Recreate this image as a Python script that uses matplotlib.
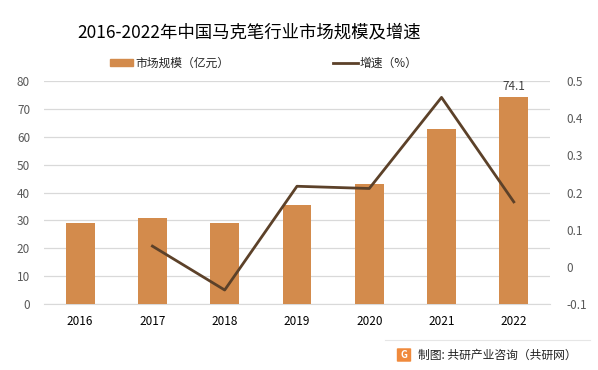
import matplotlib
matplotlib.use("Agg")
import matplotlib.pyplot as plt
from matplotlib.patches import FancyBboxPatch
import numpy as np

plt.rcParams['font.family'] = ['Noto Sans CJK SC', 'DejaVu Sans']

years = ['2016', '2017', '2018', '2019', '2020', '2021', '2022']
market_size = [29.0, 30.8, 29.0, 35.5, 43.0, 62.7, 74.1]
growth_years = ['2017', '2018', '2019', '2020', '2021', '2022']
growth = [0.056, -0.062, 0.217, 0.211, 0.456, 0.175]
left_ticks = [0, 10, 20, 30, 40, 50, 60, 70, 80]
right_ticks = [-0.1, 0, 0.1, 0.2, 0.3, 0.4, 0.5]
right_labels = ['-0.1', '0', '0.1', '0.2', '0.3', '0.4', '0.5']

bar_color = '#D38B4C'
line_color = '#5C4129'
tick_color = '#595959'

fig = plt.figure(figsize=(5.98, 3.70), dpi=100)
ax = fig.add_axes([0.0736, 0.178, 0.846, 0.603])
x = np.arange(len(years))
ax.bar(x, market_size, width=0.4, color=bar_color, zorder=3)
ax.set_xlim(-0.5, len(years) - 0.5)
ax.set_ylim(0, 80)
ax.set_yticks(left_ticks)
ax.set_xticks(x)
ax.set_xticklabels(years, fontsize=8.5, color='#000000')
ax.tick_params(axis='y', labelsize=8.5, labelcolor=tick_color, length=0, pad=10)
ax.tick_params(axis='x', length=0, pad=8)
ax.grid(axis='y', color='#D9D9D9', linewidth=0.9, zorder=0)
for s in ['top', 'right', 'left']:
    ax.spines[s].set_visible(False)
ax.spines['bottom'].set_color('#D9D9D9')
ax.text(x[-1], market_size[-1] + 1.5, f'{market_size[-1]:.1f}', ha='center', va='bottom',
        fontsize=8.5, color='#404040')

ax2 = ax.twinx()
gx = [years.index(y) for y in growth_years]
ax2.plot(gx, growth, color=line_color, linewidth=2.0, zorder=4)
ax2.set_ylim(-0.1, 0.5)
ax2.set_yticks(right_ticks)
ax2.set_yticklabels(right_labels)
ax2.tick_params(axis='y', labelsize=8.5, labelcolor=tick_color, length=0, pad=12)
for s in ['top', 'right', 'left', 'bottom']:
    ax2.spines[s].set_visible(False)

# Title
fig.text(0.417, 0.912, '2016-2022年中国马克笔行业市场规模及增速', ha='center', va='center',
         fontsize=12.5, color='#000000')

# Legend
fig.patches.append(plt.Rectangle((110 / 598, 1 - 66 / 370), 23 / 598, 7 / 370,
                                 transform=fig.transFigure, color=bar_color))
fig.text(135 / 598, 1 - 63 / 370, '市场规模（亿元）', ha='left', va='center', fontsize=8.5, color='#262626')
fig.lines.append(plt.Line2D([333 / 598, 358 / 598], [1 - 63 / 370, 1 - 63 / 370],
                            transform=fig.transFigure, color=line_color, linewidth=2.0))
fig.text(360 / 598, 1 - 63 / 370, '增速（%）', ha='left', va='center', fontsize=8.5, color='#262626')

# Footer
fig.lines.append(plt.Line2D([385 / 598, 590 / 598], [1 - 340 / 370, 1 - 340 / 370],
                            transform=fig.transFigure, color='#E6E6E6', linewidth=0.8))
logo = FancyBboxPatch((398 / 598, 1 - 361 / 370), 12 / 598, 12 / 370,
                      boxstyle='round,pad=0.002', transform=fig.transFigure,
                      facecolor='#F08A3C', edgecolor='none')
fig.patches.append(logo)
fig.text(404 / 598, 1 - 355 / 370, 'G', ha='center', va='center', fontsize=7,
         color='white', fontweight='bold')
fig.text(418 / 598, 1 - 355 / 370, '制图: 共研产业咨询（共研网）', ha='left', va='center',
         fontsize=8.5, color='#222222')

fig.savefig('out.png', dpi=100)
